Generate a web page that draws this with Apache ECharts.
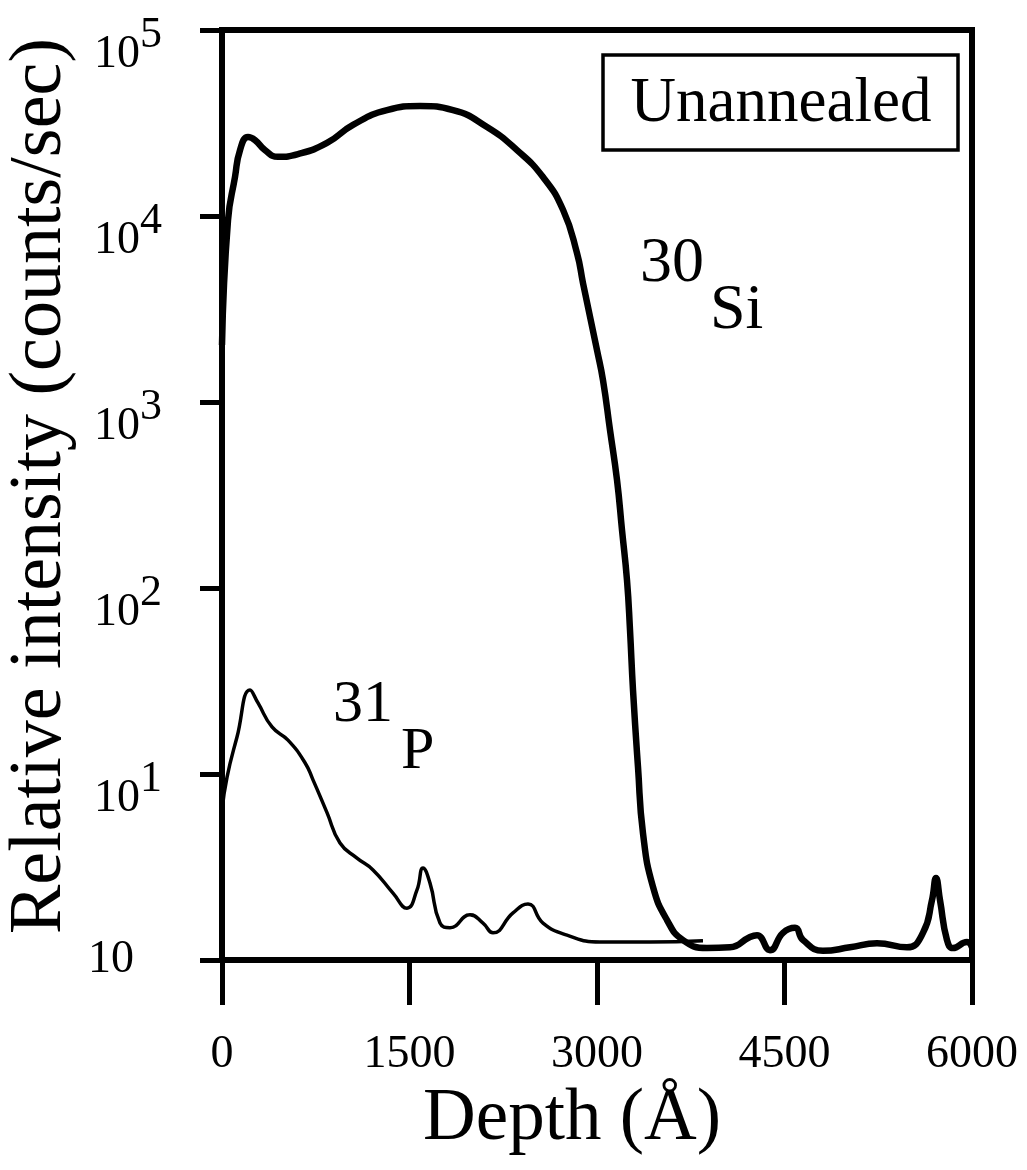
<!DOCTYPE html>
<html>
<head>
<meta charset="utf-8">
<script src="https://cdn.jsdelivr.net/npm/echarts@6/dist/echarts.min.js"></script>
<style>
  html, body { margin: 0; padding: 0; background: #fff; }
  #chart { width: 1027px; height: 1170px; }
</style>
</head>
<body>
<div id="chart"></div>
<script>
// depth ticks (Å) and log decades
const depthTicks = [0, 1500, 3000, 4500, 6000];
const decadeExps = [0, 1, 2, 3, 4, 5];

// 30Si profile (thick line)
const siDepth = [0, 48, 104, 144, 208, 264, 344, 448, 608, 840, 1048, 1320, 1584, 1848, 2120, 2360, 2568, 2728, 2840, 2888, 3000, 3048, 3104, 3160, 3200, 3240, 3264, 3288, 3328, 3368, 3448, 3560, 3688, 3880, 4064, 4224, 4280, 4384, 4488, 4584, 4648, 4808, 5024, 5240, 5480, 5608, 5680, 5712, 5744, 5800, 5848, 5960, 6000];
const siCounts = [2025, 9500, 16200, 22600, 26600, 25600, 22600, 20800, 21500, 24700, 30900, 37100, 39000, 37100, 30100, 22600, 16200, 10800, 6320, 4360, 1900, 1310, 707, 381, 205, 110, 59.5, 28.3, 10.9, 4.8, 2.47, 1.64, 1.28, 1.16, 1.17, 1.33, 1.36, 1.13, 1.40, 1.49, 1.28, 1.12, 1.17, 1.23, 1.17, 1.40, 2.10, 2.76, 2.10, 1.28, 1.16, 1.25, 1.17];

// 31P profile (thin line)
const pDepth = [0, 40, 120, 224, 288, 400, 528, 664, 728, 840, 944, 1080, 1208, 1368, 1480, 1560, 1608, 1664, 1744, 1824, 1984, 2088, 2168, 2328, 2448, 2568, 2760, 3024, 3424, 3848];
const pCounts = [6.4, 9.6, 15.8, 28.3, 24.1, 17.9, 15.2, 11.5, 9.3, 6.2, 4.26, 3.53, 3.05, 2.29, 1.90, 2.38, 3.12, 2.59, 1.58, 1.49, 1.75, 1.58, 1.40, 1.79, 2.00, 1.58, 1.36, 1.25, 1.25, 1.27];

const FONT = "'Liberation Serif', 'DejaVu Serif', serif";

const pair = (xs, ys) => xs.map((x, i) => [x, ys[i]]);

const chart = echarts.init(document.getElementById("chart"));

const option = {
  backgroundColor: "#fff",
  animation: false,
  textStyle: { fontFamily: FONT, color: "#000" },
  grid: {
    left: 222,
    right: 55,
    top: 30,
    bottom: 210,
    show: true,
    borderColor: "#000",
    borderWidth: 6,
    outerBoundsMode: "none",
  },
  xAxis: {
    type: "value",
    min: depthTicks[0],
    max: depthTicks[depthTicks.length - 1],
    interval: 1500,
    name: "Depth (Å)",
    nameLocation: "middle",
    nameGap: 118,
    nameTextStyle: { fontFamily: FONT, fontSize: 73, color: "#000", padding: [0, 50, 0, 0] },
    axisLine: { lineStyle: { color: "#000", width: 6 } },
    axisTick: { inside: false, length: 45, lineStyle: { color: "#000", width: 5 } },
    splitLine: { show: false },
    axisLabel: {
      margin: 72,
      fontFamily: FONT,
      fontSize: 46,
      color: "#000",
      formatter: (v) => (depthTicks.includes(v) ? String(v) : ""),
    },
  },
  yAxis: {
    type: "log",
    logBase: 10,
    min: Math.pow(10, decadeExps[0]),
    max: Math.pow(10, decadeExps[decadeExps.length - 1]),
    name: "Relative intensity (counts/sec)",
    nameLocation: "middle",
    nameGap: 144,
    nameTextStyle: { fontFamily: FONT, fontSize: 74, color: "#000", padding: [0, 0, 0, 18] },
    axisLine: { lineStyle: { color: "#000", width: 6 } },
    axisTick: { inside: false, length: 22, lineStyle: { color: "#000", width: 5 } },
    splitLine: { show: false },
    axisLabel: {
      margin: 60,
      color: "#000",
      formatter: (v) => {
        const e = Math.round(Math.log10(v));
        if (e === 0) return "{z|10}{gap| }";
        return "{b|10}{s|" + e + "}";
      },
      rich: {
        b: { fontFamily: FONT, fontSize: 46, color: "#000", padding: [50, 0, 0, 0] },
        s: { fontFamily: FONT, fontSize: 44, color: "#000", padding: [10, 0, 0, 0] },
        z: { fontFamily: FONT, fontSize: 46, color: "#000" },
        gap: { fontFamily: FONT, fontSize: 44, width: 28 },
      },
    },
  },
  graphic: [
    {
      type: "rect",
      shape: { x: 603, y: 55, width: 355, height: 95 },
      style: { fill: "#fff", stroke: "#000", lineWidth: 3.5 },
      z: 10,
    },
    {
      type: "text",
      x: 781,
      y: 104,
      style: { text: "Unannealed", font: "63px " + FONT, fill: "#000", align: "center", verticalAlign: "middle" },
      z: 11,
    },
    {
      type: "text",
      x: 640,
      y: 264,
      style: { text: "30", font: "64px " + FONT, fill: "#000", align: "left", verticalAlign: "middle" },
    },
    {
      type: "text",
      x: 710,
      y: 311,
      style: { text: "Si", font: "64px " + FONT, fill: "#000", align: "left", verticalAlign: "middle" },
    },
    {
      type: "text",
      x: 333,
      y: 705,
      style: { text: "31", font: "60px " + FONT, fill: "#000", align: "left", verticalAlign: "middle" },
    },
    {
      type: "text",
      x: 401,
      y: 752,
      style: { text: "P", font: "60px " + FONT, fill: "#000", align: "left", verticalAlign: "middle" },
    },
  ],
  series: [
    {
      name: "30Si",
      type: "line",
      data: pair(siDepth, siCounts),
      showSymbol: false,
      smooth: 0.5,
      lineStyle: { color: "#000", width: 6.5 },
      silent: true,
    },
    {
      name: "31P",
      type: "line",
      data: pair(pDepth, pCounts),
      showSymbol: false,
      smooth: 0.5,
      lineStyle: { color: "#000", width: 3.5 },
      silent: true,
    },
  ],
};

chart.setOption(option);
</script>
</body>
</html>
